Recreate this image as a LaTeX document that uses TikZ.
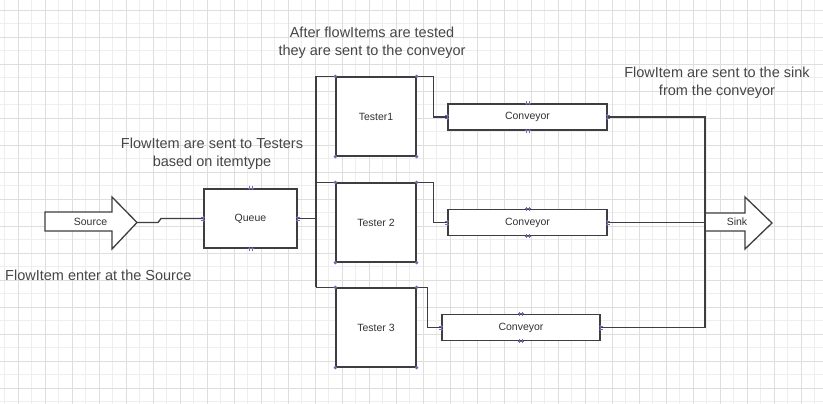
\documentclass[tikz,border=0pt]{standalone}
\usepackage{fontspec}
\setmainfont{Liberation Sans}
\definecolor{linec}{RGB}{62,62,66}
\definecolor{txtc}{RGB}{50,50,50}
\definecolor{notec}{RGB}{70,70,70}
\definecolor{portc}{RGB}{110,105,175}
\definecolor{gminor}{RGB}{238,238,238}
\definecolor{gmajor}{RGB}{222,222,222}
\begin{document}
\begin{tikzpicture}[x=1pt,y=-1pt,
  ln/.style={draw=linec, line width=1.3pt},
  box/.style={ln, fill=white, inner sep=0pt, font=\fontsize{10.5}{12}\selectfont, text=txtc},
  tbox/.style={box, minimum width=80, minimum height=79},
  cbox/.style={box, minimum height=26},
  note/.style={align=center, font=\fontsize{14.5}{18}\selectfont, text=notec, inner sep=0pt},
  lbl/.style={font=\fontsize{10.5}{12}\selectfont, text=txtc, inner sep=0pt},
  hport/.pic={\draw[portc, line width=0.8pt] (-3,0)--(3,0) (-1.5,-2)--(-1.5,2) (1.5,-2)--(1.5,2);},
  vport/.pic={\draw[portc, line width=0.8pt] (0,-3)--(0,3) (-2,-1.5)--(2,-1.5) (-2,1.5)--(2,1.5);},
  kport/.pic={\fill[portc] (0,0) circle (1.8);}]
\useasboundingbox (0,0) rectangle (823,404);
\fill[white] (0,0) rectangle (823,404);
% grid
\foreach \i in {0,...,62} {
  \draw[gminor, line width=0.5pt] ({4.5+13.5*\i},0) -- ({4.5+13.5*\i},404);
}
\foreach \j in {0,...,30} {
  \draw[gminor, line width=0.5pt] (0,{-3.5+13.5*\j}) -- (823,{-3.5+13.5*\j});
}
\foreach \i in {0,...,31} {
  \draw[gmajor, line width=0.6pt] ({18+27*\i},0) -- ({18+27*\i},404);
}
\foreach \j in {0,...,15} {
  \draw[gmajor, line width=0.6pt] (0,{10+27*\j}) -- (823,{10+27*\j});
}

% notes
\node[note] (n1) at (372,43) {After flowItems are tested\\they are sent to the conveyor};
\node[note] (n2) at (717,82.5) {FlowItem are sent to the sink\\from the conveyor};
\node[note] (n3) at (212,154) {FlowItem are sent to Testers\\based on itemtype};
\node[note, anchor=west] (n4) at (5,275) {FlowItem enter at the Source};

% source arrow
\draw[ln, fill=white] (45,212) -- (112,212) -- (112,197) -- (137,222.5) -- (112,249) -- (112,231) -- (45,231) -- cycle;
\coordinate (srctip) at (137,222.5);
\node[lbl] (srclbl) at (90.5,221.5) {Source};

% sink arrow
\draw[ln, fill=white] (705,213) -- (745,213) -- (745,197) -- (772,223) -- (745,249) -- (745,231) -- (705,231);
\node[lbl] (snklbl) at (737,222) {Sink};

% boxes
\node[box, minimum width=93, minimum height=59] (queue) at (250.5,218.5) {Queue};
\node[tbox] (t1) at (376,116.5) {Tester1};
\node[tbox] (t2) at (376,222.5) {Tester 2};
\node[tbox] (t3) at (376,327.5) {Tester 3};
\node[cbox, minimum width=159] (c1) at (527.5,117) {Conveyor};
\node[cbox, minimum width=159] (c2) at (527.5,222.5) {Conveyor};
\node[cbox, minimum width=158] (c3) at (521,327.5) {Conveyor};

\coordinate (bus) at (316,0);
\coordinate (sb) at (705,0);

% connectors
\draw[ln] (srctip) -- ++(21,0) -- ++(3,-4) -- (queue.west);
\draw[ln] (queue.east) -- (queue.east -| bus);
\draw[ln] (t1.north west -| bus) -- (t3.north west -| bus);
\draw[ln] (t1.north west -| bus) -- (t1.north east) -- ++(17,0) |- (c1.west);
\draw[ln] (t2.north west -| bus) -- (t2.north east) -- ++(17,0) |- (c2.west);
\draw[ln] (t3.north west -| bus) -- (t3.north east) -- ++(11,0) |- (c3.west);
\draw[ln] (c1.east) -- (c1.east -| sb) -- (c3.east -| sb) -- (c3.east);
\draw[ln] (c2.east) -- (c2.east -| sb);

% ports
\foreach \b in {queue,c1,c2,c3} {
  \pic at (\b.north) {hport};
  \pic at (\b.south) {hport};
  \pic at (\b.west) {vport};
  \pic at (\b.east) {vport};
}
\foreach \b in {t1,t2,t3} {
  \pic at (\b.north west) {kport};
  \pic at (\b.north east) {kport};
  \pic at (\b.south west) {kport};
  \pic at (\b.south east) {kport};
}
\end{tikzpicture}
\end{document}
